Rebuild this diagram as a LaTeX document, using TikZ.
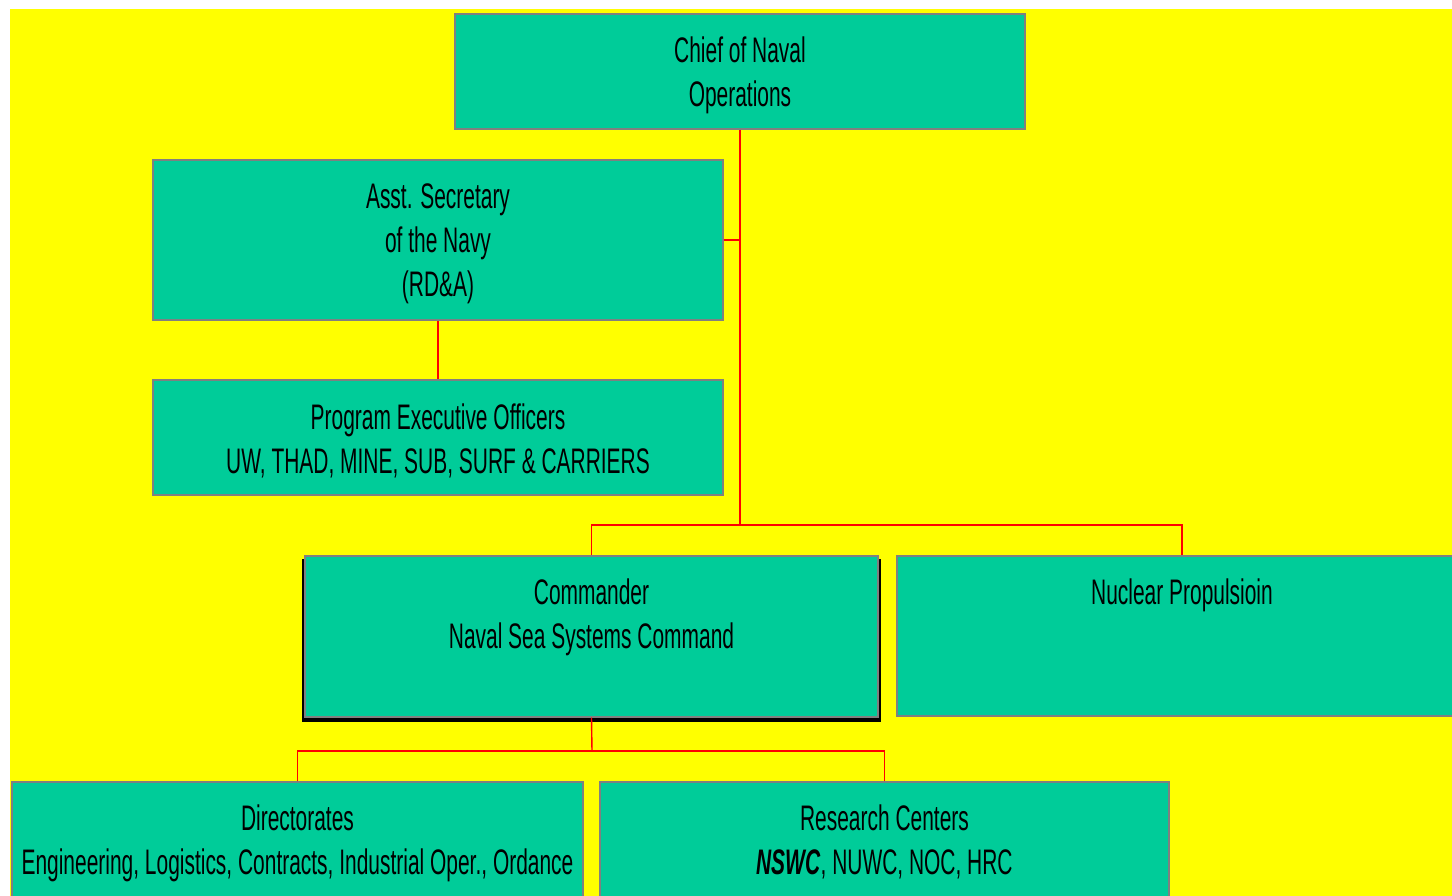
\documentclass[tikz,border=0pt]{standalone}
\usepackage{fontspec}
\setmainfont[FakeStretch=0.59]{Liberation Sans}
\definecolor{boxgreen}{HTML}{00CC99}
\definecolor{boxgray}{HTML}{808080}
\definecolor{bgyellow}{HTML}{FFFF00}
\begin{document}
\begin{tikzpicture}[x=1pt,y=-1pt,
  box/.style={draw=boxgray,line width=1.2pt,fill=boxgreen,rectangle,inner sep=0pt},
  lbl/.style={align=center,font=\fontsize{35.5}{44}\selectfont,inner sep=0pt},
  wire/.style={draw=red,line width=1.4pt}]
\useasboundingbox (0,0) rectangle (1452,896);
\clip (0,0) rectangle (1452,896);
\fill[white] (0,0) rectangle (1452,896);
\fill[bgyellow] (10,9) rectangle (1452,896);
% boxes
\node[box,minimum width=570pt,minimum height=115pt] (cno) at (740,71.5) {};
\node[box,minimum width=570pt,minimum height=160pt] (asn) at (438,240) {};
\node[box,minimum width=570pt,minimum height=115pt] (peo) at (438,437.5) {};
\fill[black] (302,559) rectangle (881,722);
\node[box,minimum width=573pt,minimum height=161pt] (cmd) at (591.5,636.5) {};
\node[box,minimum width=570pt,minimum height=160pt] (nuc) at (1182,636) {};
\node[box,minimum width=571pt,minimum height=115pt] (dir) at (297.5,839.5) {};
\node[box,minimum width=569pt,minimum height=115pt] (res) at (884.5,839.5) {};
% connectors
\coordinate (bus1) at (740,525);
\coordinate (bus2) at (592,751);
\draw[wire] (cno.south) -- (bus1);
\draw[wire] (asn.east) -- (asn.east -| cno.south);
\draw[wire] (asn.south) -- (peo.north);
\draw[wire] (cmd.north) |- (bus1) -| (nuc.north);
\draw[wire] (cmd.south) -- (bus2);
\draw[wire] (dir.north) |- (bus2) -| (res.north);
% texts
\node[lbl] (cnot) at (740,75) {Chief of Naval\\Operations};
\node[lbl] (asnt) at (438,244) {Asst. Secretary\\of the Navy\\(RD\&A)};
\node[lbl] (peot) at (438,441) {Program Executive Officers\\UW, THAD, MINE, SUB, SURF \& CARRIERS};
\node[lbl] (cmdt) at (591.5,617) {Commander\\Naval Sea Systems Command};
\node[lbl] (nuct) at (1182,595) {Nuclear Propulsioin};
\node[lbl] (dirt) at (297.5,843) {Directorates\\Engineering, Logistics, Contracts, Industrial Oper., Ordance};
\node[lbl] (rest) at (884.5,842) {Research Centers\\\textbf{\textit{NSWC}}, NUWC, NOC, HRC};
\end{tikzpicture}
\end{document}
